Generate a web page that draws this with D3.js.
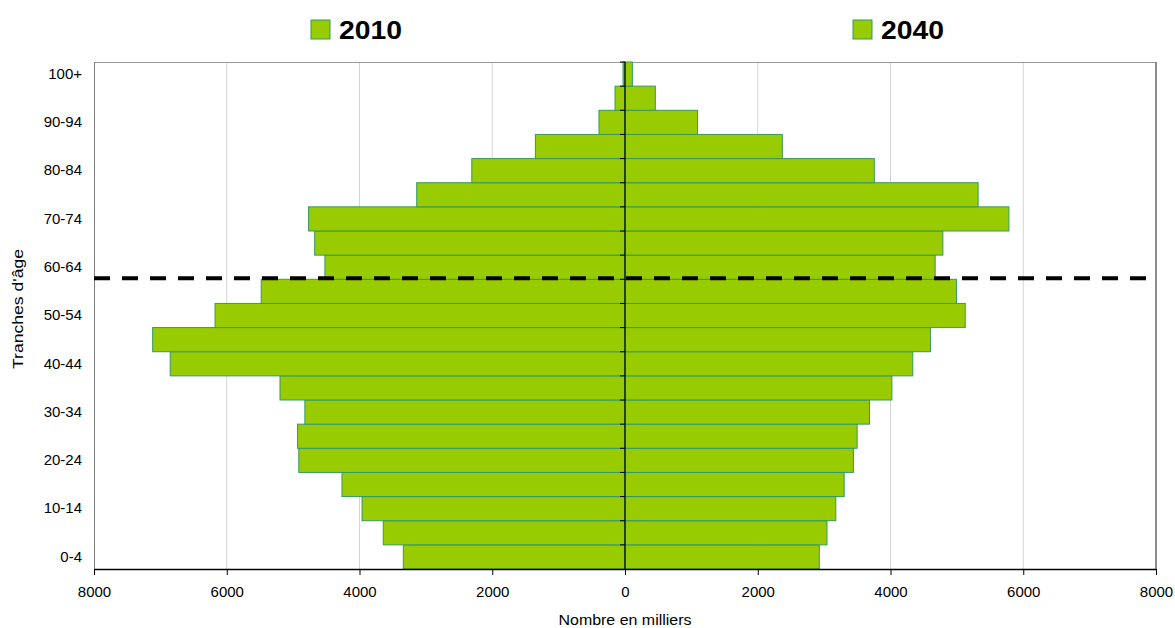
<!DOCTYPE html>
<html>
<head>
<meta charset="utf-8">
<script src="https://cdn.jsdelivr.net/npm/d3@7"></script>
<style>
  body { margin: 0; background: #fff; }
  svg text { font-family: "Liberation Sans", Arial, sans-serif; }
</style>
</head>
<body>
<div id="chart"></div>
<script>
// tranches d'âge, du plus jeune au plus âgé
const ages = ["0-4", "5-9", "10-14", "15-19", "20-24", "25-29", "30-34", "35-39", "40-44", "45-49",
  "50-54", "55-59", "60-64", "65-69", "70-74", "75-79", "80-84", "85-89", "90-94", "95-99", "100+"];
// population en milliers
const pop2010 = [3340, 3642, 3962, 4264, 4915, 4933, 4823, 5198, 6852, 7116,
  6176, 5481, 4521, 4675, 4767, 3138, 2308, 1350, 392, 150, 30];
const pop2040 = [2927, 3043, 3176, 3302, 3441, 3497, 3684, 4021, 4336, 4601,
  5126, 4993, 4673, 4789, 5784, 5320, 3756, 2370, 1093, 457, 111];
const xTicks = [-8000, -6000, -4000, -2000, 0, 2000, 4000, 6000, 8000];
const yLabels = ["0-4", "10-14", "20-24", "30-34", "40-44", "50-54", "60-64", "70-74", "80-84", "90-94", "100+"];
const seriesNames = ["2010", "2040"];

const W = 1175, H = 628;
const mLeft = 94, mRight = 1156, mTop = 62, mBottom = 569;
const fill = "#99cc00", edge = "#339966";

const svg = d3.select("#chart").append("svg")
  .attr("width", W).attr("height", H);

const x = d3.scaleLinear().domain([-8000, 8000]).range([mLeft, mRight]);
const y = d3.scaleBand().domain(ages.slice().reverse()).range([mTop, mBottom]).padding(0);

// grille verticale
svg.append("g").selectAll("line")
  .data(xTicks.filter(d => d !== 0 && Math.abs(d) !== 8000))
  .enter().append("line")
  .attr("x1", d => x(d)).attr("x2", d => x(d))
  .attr("y1", mTop).attr("y2", mBottom)
  .attr("stroke", "#d4d4d4").attr("stroke-width", 1);

// cadre
svg.append("line").attr("x1", mLeft).attr("x2", mRight).attr("y1", mTop + 0.5).attr("y2", mTop + 0.5)
  .attr("stroke", "#9a9a9a");
svg.append("line").attr("x1", mLeft + 0.5).attr("x2", mLeft + 0.5).attr("y1", mTop).attr("y2", mBottom)
  .attr("stroke", "#808080");
svg.append("line").attr("x1", mRight).attr("x2", mRight).attr("y1", mTop).attr("y2", mBottom)
  .attr("stroke", "#8c8c8c").attr("stroke-width", 2);

// barres 2010 (à gauche)
svg.append("g").selectAll("rect")
  .data(ages.map((a, i) => ({ age: a, v: pop2010[i] })))
  .enter().append("rect")
  .attr("x", d => x(-d.v)).attr("width", d => x(0) - x(-d.v))
  .attr("y", d => y(d.age)).attr("height", y.bandwidth())
  .attr("fill", fill).attr("stroke", edge).attr("stroke-width", 1);

// barres 2040 (à droite)
svg.append("g").selectAll("rect")
  .data(ages.map((a, i) => ({ age: a, v: pop2040[i] })))
  .enter().append("rect")
  .attr("x", x(0)).attr("width", d => x(d.v) - x(0))
  .attr("y", d => y(d.age)).attr("height", y.bandwidth())
  .attr("fill", fill).attr("stroke", edge).attr("stroke-width", 1);

// axe central avec graduations
svg.append("line").attr("x1", x(0)).attr("x2", x(0)).attr("y1", mTop).attr("y2", mBottom)
  .attr("stroke", "#000").attr("stroke-width", 1.2);
svg.append("g").selectAll("line")
  .data(ages)
  .enter().append("line")
  .attr("x1", x(0) - 5).attr("x2", x(0))
  .attr("y1", d => y(d)).attr("y2", d => y(d))
  .attr("stroke", "#000");

// axe des abscisses
const xAxis = svg.append("g")
  .attr("transform", `translate(0,${mBottom})`)
  .call(d3.axisBottom(x).tickValues(xTicks).tickSize(6).tickSizeOuter(0).tickFormat(d => Math.abs(d)));
xAxis.select(".domain").attr("stroke", "#000").attr("stroke-width", 1.5);
xAxis.selectAll(".tick line").attr("stroke", "#000");
xAxis.selectAll("text").attr("font-size", 15).attr("fill", "#000").attr("dy", "1.25em");

// axe des ordonnées
const yAxis = svg.append("g")
  .attr("transform", `translate(${mLeft},0)`)
  .call(d3.axisLeft(y).tickValues(yLabels).tickSize(0).tickPadding(12));
yAxis.select(".domain").remove();
yAxis.selectAll("text").attr("font-size", 15).attr("fill", "#000");

// ligne pointillée (60 ans)
svg.append("line")
  .attr("x1", mLeft).attr("x2", 1146)
  .attr("y1", y("55-59") - 1).attr("y2", y("55-59") - 1)
  .attr("stroke", "#000").attr("stroke-width", 4)
  .attr("stroke-dasharray", "16,12");

// titres d'axes
svg.append("text")
  .attr("x", x(0)).attr("y", 625)
  .attr("text-anchor", "middle").attr("font-size", 14)
  .attr("textLength", 133).attr("lengthAdjust", "spacingAndGlyphs")
  .text("Nombre en milliers");
svg.append("text")
  .attr("transform", `translate(23,309) rotate(-90)`)
  .attr("text-anchor", "middle").attr("font-size", 14)
  .attr("textLength", 120).attr("lengthAdjust", "spacingAndGlyphs")
  .text("Tranches d'âge");

// légendes
const legendX = [311, 853];
seriesNames.forEach((name, i) => {
  svg.append("rect")
    .attr("x", legendX[i]).attr("y", 20).attr("width", 19).attr("height", 19)
    .attr("fill", fill).attr("stroke", edge).attr("stroke-width", 1);
  svg.append("text")
    .attr("x", legendX[i] + 28).attr("y", 38.5)
    .attr("font-size", 26).attr("font-weight", "bold")
    .attr("textLength", 63).attr("lengthAdjust", "spacingAndGlyphs")
    .text(name);
});
</script>
</body>
</html>
